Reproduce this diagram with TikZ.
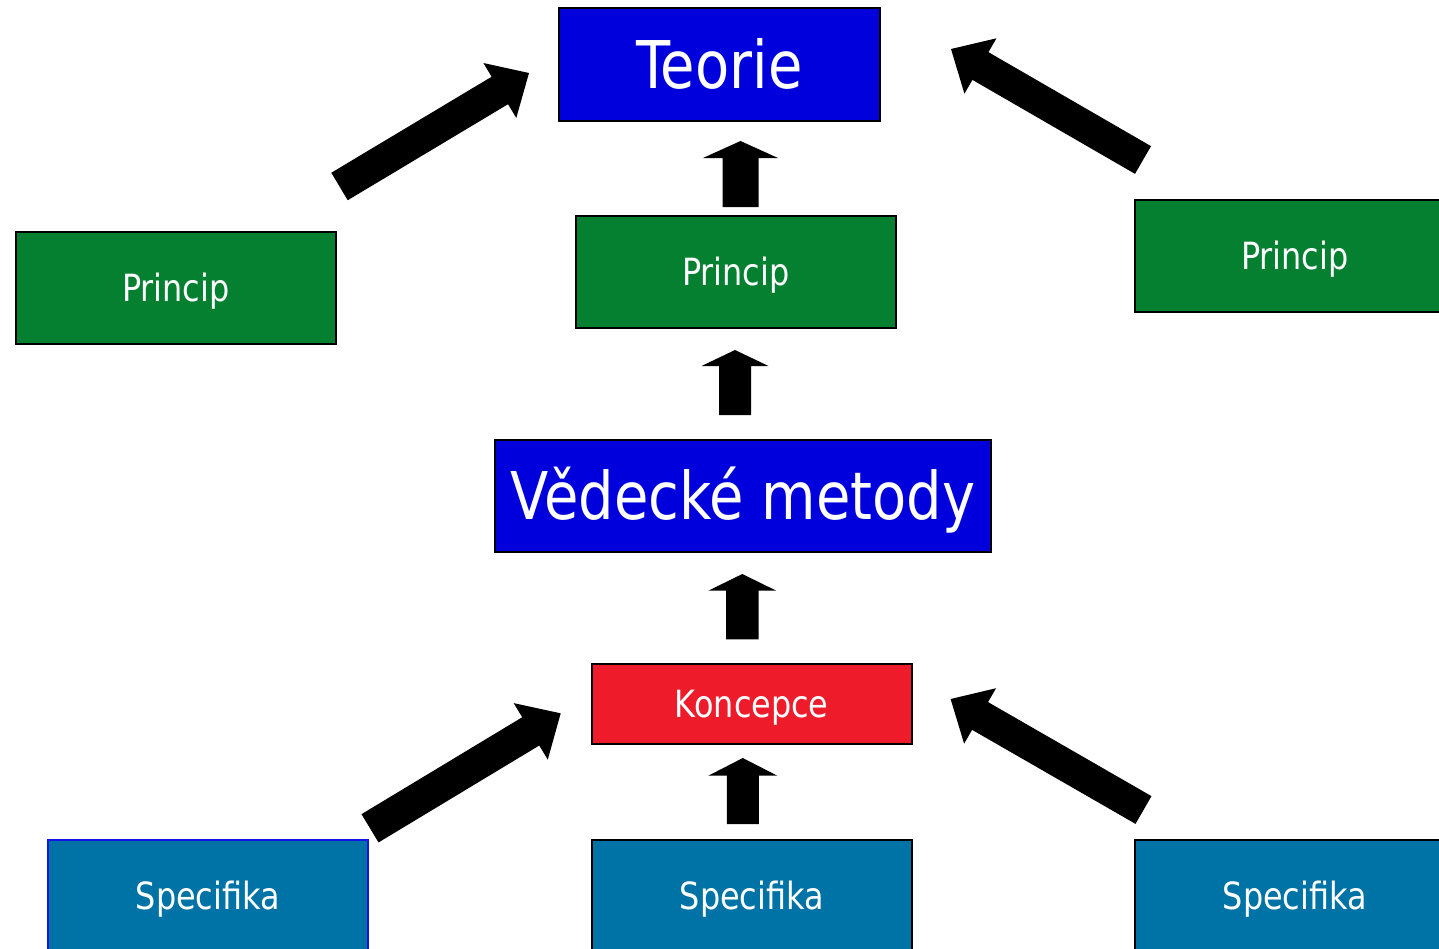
\documentclass[tikz,border=0pt]{standalone}
\usepackage{fontspec}
\setmainfont{DejaVu Sans}[FakeStretch=0.85]
\usetikzlibrary{calc}
\definecolor{teoblue}{RGB}{0,0,220}
\definecolor{prgreen}{RGB}{4,128,48}
\definecolor{konred}{RGB}{238,28,43}
\definecolor{spblue}{RGB}{0,115,166}
\definecolor{spborder}{RGB}{20,20,230}
\newcommand\smallfnt{\fontsize{37.5pt}{45pt}\selectfont}
\newcommand\bigfnt{\fontsize{65.8pt}{79pt}\selectfont}
% #1 tail, #2 tip, #3 head length, #4 half head width, #5 half shaft width
\newcommand\blockarrow[5]{%
  \coordinate (ba-c) at ($(#2)!#3!(#1)$);
  \fill[arrowfill] ($(#1)!#5!90:(#2)$) -- ($(ba-c)!#5!90:(#2)$) -- ($(ba-c)!#4!90:(#2)$) -- (#2)
    -- ($(ba-c)!#4!-90:(#2)$) -- ($(ba-c)!#5!-90:(#2)$) -- ($(#1)!#5!-90:(#2)$) -- cycle;}
\tikzset{
  box/.style={draw=black, line width=1.5pt, minimum width=320pt, minimum height=112pt,
    inner sep=0pt, text=white, font=\smallfnt, text height=27pt, text depth=0pt,
    anchor=north west},
  bigbox/.style={box, font=\bigfnt, text height=48pt, fill=teoblue},
  principbox/.style={box, fill=prgreen},
  specbox/.style={box, fill=spblue, minimum height=113pt},
  konbox/.style={box, fill=konred, minimum height=80pt},
  arrowfill/.style={fill=black}
}
\begin{document}
\begin{tikzpicture}[x=1pt,y=-1pt]
\useasboundingbox (0,0) rectangle (1439,948);
\fill[white] (0,0) rectangle (1439,948);
\clip (0,0) rectangle (1439,948);
% boxes
\node[bigbox, minimum width=321pt, minimum height=113pt] (teorie) at (558,7) {Teorie};
\node[principbox] (prleft) at (15,231) {Princip};
\node[principbox] (prmid) at (575,215) {Princip};
\node[principbox] (prright) at (1134,199) {Princip};
\node[bigbox, minimum width=496pt] (vedecke) at (494,439) {Vědecké metody};
\node[konbox] (koncepce) at (591,663) {Koncepce};
\node[specbox, draw=spborder] (spleft) at (47,839) {Specifika};
\node[specbox] (spmid) at (591,839) {Specifika};
\node[specbox] (spright) at (1134,839) {Specifika};
% arrow end points
\coordinate (a1t) at (740.5,207); \coordinate (a1h) at (740.5,141);
\coordinate (a2t) at (735,415);   \coordinate (a2h) at (735,350);
\coordinate (a3t) at (742.3,639.3); \coordinate (a3h) at (742.3,574);
\coordinate (a4t) at (742.8,824); \coordinate (a4h) at (742.8,758);
\coordinate (d1t) at (339.5,186.5); \coordinate (d1h) at (529,73);
\coordinate (d2t) at (1143,160);  \coordinate (d2h) at (951,49);
\coordinate (d3t) at (370,828.3); \coordinate (d3h) at (560.7,713.3);
\coordinate (d4t) at (1143.5,810); \coordinate (d4h) at (950.6,699);
% vertical block arrows
\blockarrow{a1t}{a1h}{17pt}{37.5pt}{18pt}
\blockarrow{a2t}{a2h}{16pt}{33.5pt}{16pt}
\blockarrow{a3t}{a3h}{16.7pt}{34pt}{16.3pt}
\blockarrow{a4t}{a4h}{17.7pt}{34.5pt}{16pt}
% diagonal block arrows
\blockarrow{d1t}{d1h}{34pt}{32pt}{16pt}
\blockarrow{d2t}{d2h}{34pt}{32pt}{16pt}
\blockarrow{d3t}{d3h}{35pt}{33pt}{16.5pt}
\blockarrow{d4t}{d4h}{34pt}{32pt}{16pt}
\end{tikzpicture}
\end{document}
